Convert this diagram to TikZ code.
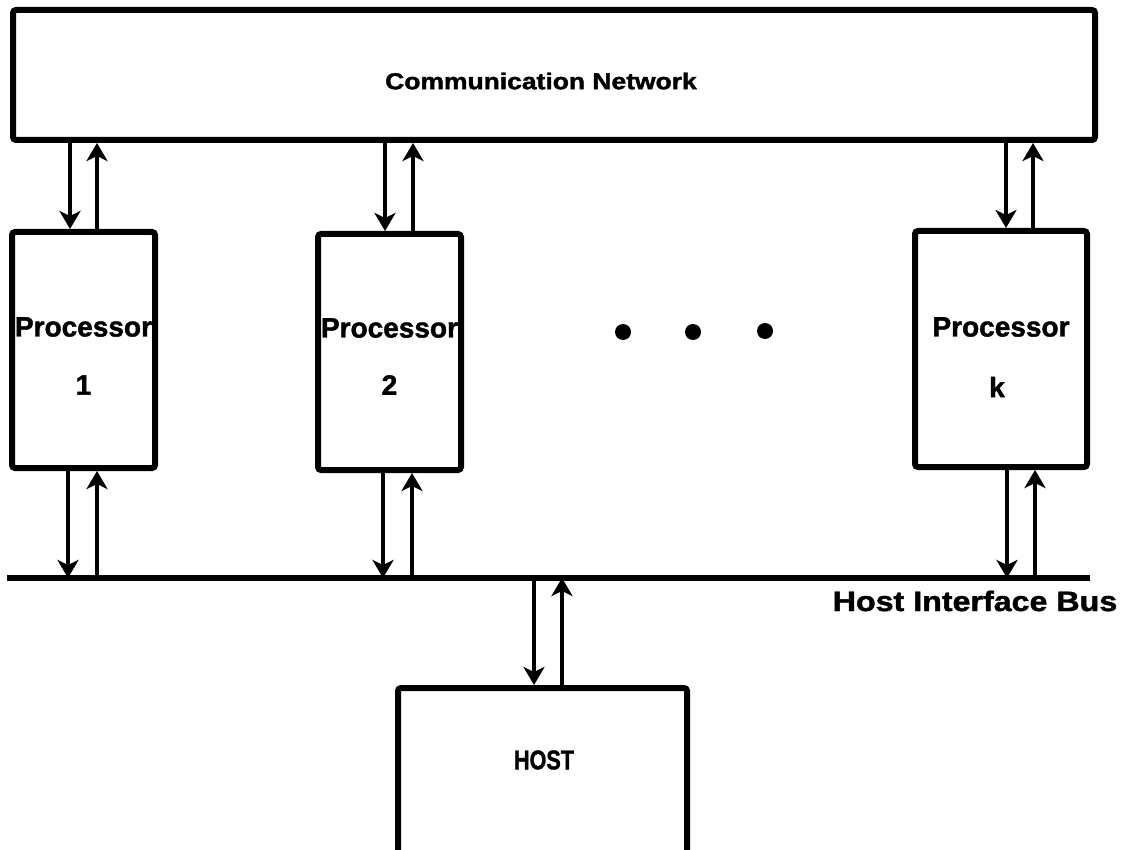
\documentclass[tikz,border=0pt]{standalone}
\usepackage{fontspec}
\setmainfont{Liberation Sans}[BoldFeatures={FakeBold=1.5}]
\usetikzlibrary{arrows.meta,calc}
\begin{document}
\begin{tikzpicture}[x=1pt,y=-1pt,
  box/.style={draw,line width=6pt,rounded corners=3pt,fill=white,inner sep=0pt},
  lbl/.style={font=\bfseries\fontsize{28}{34}\selectfont,inner sep=0pt},
  arr/.style={line width=4.5pt,-{Stealth[length=18pt,width=21pt,inset=5pt]}},
  busline/.style={line width=6pt},
  dotnode/.style={circle,fill=black,minimum size=16pt,inner sep=0pt}]
\useasboundingbox (0,0) rectangle (1123,850);
\fill[white] (0,0) rectangle (1123,850);
\clip (0,0) rectangle (1123,850);

% boxes
\node[box,minimum width=1082pt,minimum height=130pt] (cn) at (554,75) {};
\node[box,minimum width=143pt,minimum height=236pt] (p1) at (83.5,350) {};
\node[box,minimum width=143pt,minimum height=236pt] (p2) at (389.5,352) {};
\node[box,minimum width=172pt,minimum height=236pt] (pk) at (1001,349) {};
\node[box,minimum width=289pt,minimum height=172pt] (host) at (542.5,774) {};

% labels
\node[font=\bfseries\fontsize{23}{26}\selectfont,inner sep=0pt] (cnl) at (541,81) {\scalebox{1.15}[1]{Communication Network}};
\node[lbl] (p1a) at ($(p1.center)+(0,-23)$) {Processor};
\node[lbl] (p1b) at ($(p1.center)+(0,35)$) {1};
\node[lbl] (p2a) at ($(p2.center)+(0,-24)$) {Processor};
\node[lbl] (p2b) at ($(p2.center)+(0,33)$) {2};
\node[lbl] (pka) at ($(pk.center)+(0,-22)$) {Processor};
\node[lbl] (pkb) at ($(pk.center)+(-4,38)$) {k};
\node[font=\bfseries\fontsize{27}{30}\selectfont,inner sep=0pt] (hostl) at (544,760) {\scalebox{0.8}[1]{HOST}};

% dots
\node[dotnode] (d1) at (623,332) {};
\node[dotnode] (d2) at (693,332) {};
\node[dotnode] (d3) at (765,331) {};

% bus
\coordinate (busL) at (7,578);
\coordinate (busR) at (1090,578);
\draw[busline] (busL) -- (busR);
\node[lbl,anchor=center] (busl) at (975,601) {\scalebox{1.15}[1]{Host Interface Bus}};

% arrow x positions
\coordinate (u1d) at (70,0);   \coordinate (u1u) at (97,0);
\coordinate (u2d) at (385,0);  \coordinate (u2u) at (413,0);
\coordinate (ukd) at (1006,0); \coordinate (uku) at (1033,0);
\coordinate (l1d) at (68,0);   \coordinate (l1u) at (97,0);
\coordinate (l2d) at (383,0);  \coordinate (l2u) at (412,0);
\coordinate (lkd) at (1007,0); \coordinate (lku) at (1035,0);
\coordinate (hd) at (534,0);   \coordinate (hu) at (562,0);

% network <-> processors
\draw[arr] (u1d |- cn.south) -- (u1d |- p1.north);
\draw[arr] (u1u |- p1.north) -- (u1u |- cn.south);
\draw[arr] (u2d |- cn.south) -- (u2d |- p2.north);
\draw[arr] (u2u |- p2.north) -- (u2u |- cn.south);
\draw[arr] (ukd |- cn.south) -- (ukd |- pk.north);
\draw[arr] (uku |- pk.north) -- (uku |- cn.south);

% processors <-> bus
\draw[arr] (l1d |- p1.south) -- (l1d |- busL);
\draw[arr] (l1u |- busL) -- (l1u |- p1.south);
\draw[arr] (l2d |- p2.south) -- (l2d |- busL);
\draw[arr] (l2u |- busL) -- (l2u |- p2.south);
\draw[arr] (lkd |- pk.south) -- (lkd |- busL);
\draw[arr] (lku |- busL) -- (lku |- pk.south);

% bus <-> host
\draw[arr] (hd |- busL) -- (hd |- host.north);
\draw[arr] (hu |- host.north) -- (hu |- busL);
\end{tikzpicture}
\end{document}
